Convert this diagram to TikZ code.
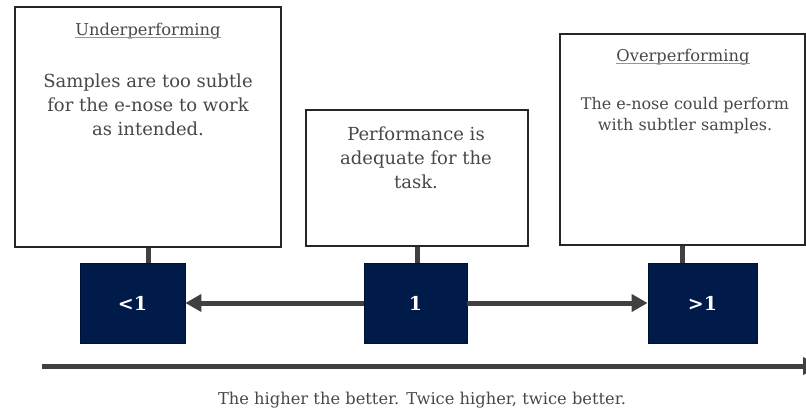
\documentclass[tikz,border=0pt]{standalone}
\usepackage{fontspec}
\setmainfont{DejaVu Serif}
\usetikzlibrary{arrows.meta}
\definecolor{navy}{RGB}{0,26,74}
\definecolor{linegray}{RGB}{64,64,64}
\definecolor{txtgray}{RGB}{72,72,72}
\definecolor{ulgray}{RGB}{150,150,150}
\tikzset{
  infobox/.style={draw=black!85, line width=1.2pt, fill=white, inner sep=0pt},
  valbox/.style={fill=navy, draw=navy!70!black, line width=0.8pt, inner sep=0pt,
    minimum height=80pt, text=white, font=\fontsize{19}{22}\selectfont\bfseries},
  stem/.style={draw=linegray, line width=5pt},
  conn/.style={draw=linegray, line width=5pt, -{Triangle[length=16pt,width=17pt]}},
  title/.style={inner sep=0pt, text=txtgray, font=\fontsize{16.3}{19}\selectfont, anchor=base},
  body/.style={inner sep=0pt, text=txtgray, align=center, anchor=base},
  uline/.style={draw=ulgray, line width=1pt},
}
\begin{document}
\begin{tikzpicture}[x=1pt,y=-1pt]
\useasboundingbox (0,0) rectangle (806,415);
% info boxes
\node[infobox, minimum width=266pt, minimum height=240pt] (b1) at (148,127) {};
\node[infobox, minimum width=222pt, minimum height=136pt] (b2) at (417,178) {};
\node[infobox, minimum width=245pt, minimum height=211pt] (b3) at (682.5,139.5) {};
% value boxes
\node[valbox, minimum width=105pt] (v1) at (132.5,303) {<1};
\node[valbox, minimum width=103pt] (v2) at (415.5,303) {1};
\node[valbox, minimum width=109pt] (v3) at (702.5,303) {>1};
% stems
\draw[stem] (b1.south) -- (b1.south |- v1.north);
\draw[stem] (b2.south) -- (b2.south |- v2.north);
\draw[stem] (b3.south) -- (b3.south |- v3.north);
% arrows
\draw[conn] (v2.west) -- (v1.east);
\draw[conn] (v2.east) -- (v3.west);
% titles
\node[title] (t1) at (148,35) {Underperforming};
\draw[uline] ([yshift=-2.5pt]t1.base west) -- ([yshift=-2.5pt]t1.base east);
\node[title] (t3) at (683,61) {Overperforming};
\draw[uline] ([yshift=-2.5pt]t3.base west) -- ([yshift=-2.5pt]t3.base east);
% body texts
\node[body, font=\fontsize{18}{24}\selectfont] (x1a) at (148,87) {Samples are too subtle};
\node[body, font=\fontsize{18}{24}\selectfont] (x1b) at (148,111) {for the e-nose to work};
\node[body, font=\fontsize{18}{24}\selectfont] (x1c) at (148,135) {as intended.};
\node[body, font=\fontsize{18}{24}\selectfont] (x2a) at (416,140) {Performance is};
\node[body, font=\fontsize{18}{24}\selectfont] (x2b) at (416,164) {adequate for the};
\node[body, font=\fontsize{18}{24}\selectfont] (x2c) at (416,188) {task.};
\node[body, font=\fontsize{16}{20}\selectfont] (x3a) at (685,109) {The e-nose could perform};
\node[body, font=\fontsize{16}{20}\selectfont] (x3b) at (685,130) {with subtler samples.};
% axis
\coordinate (axs) at (42,366);
\coordinate (axe) at (819,366);
\begin{scope}
\clip (0,0) rectangle (806,415);
\draw[conn] (axs) -- (axe);
\end{scope}
\node[body, font=\fontsize{16.3}{20}\selectfont] (cap) at (422,404) {The higher the better. Twice higher, twice better.};
\end{tikzpicture}
\end{document}
